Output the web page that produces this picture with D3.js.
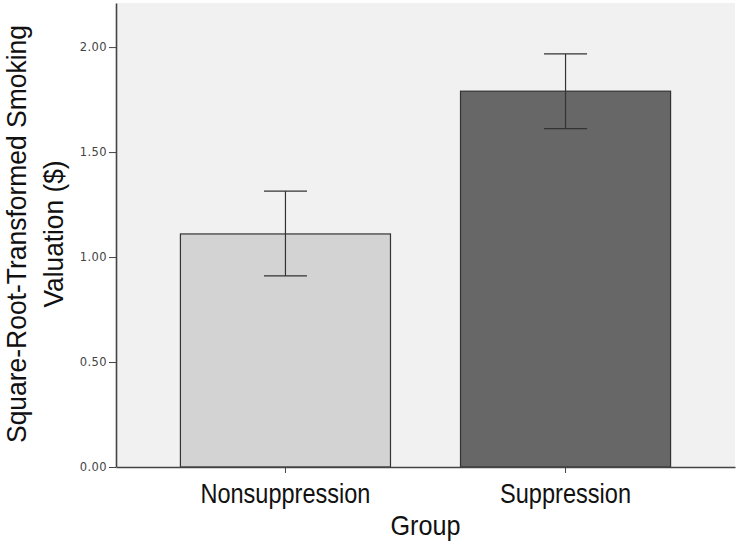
<!DOCTYPE html>
<html><head><meta charset="utf-8">
<script src="https://cdn.jsdelivr.net/npm/d3@7"></script>
<style>body{margin:0;background:#fff}svg{display:block}</style>
</head><body>
<svg id="c" width="750" height="546"></svg>
<script>
const categories = ["Nonsuppression", "Suppression"];
const means = [1.11, 1.79];
const errLow = [0.91, 1.612];
const errHigh = [1.314, 1.968];
const barColors = ["#d3d3d3", "#676767"];
const yTicks = [0, 0.5, 1.0, 1.5, 2.0];

const svg = d3.select("#c");
const L = 116, R = 735, T = 3, B = 467;
const FONT = "'Liberation Sans Narrow', 'Arial Narrow', 'Liberation Sans', sans-serif";
const x = d3.scaleBand().domain(categories).range([L, R]).paddingInner(0.25).paddingOuter(0.23);
const y = d3.scaleLinear().domain([0, 2.21]).range([B, T]);

svg.append("rect").attr("x", L).attr("y", T).attr("width", R - L).attr("height", B - T).attr("fill", "#f1f1f1");

svg.selectAll("rect.bar").data(categories).enter().append("rect")
  .attr("class", "bar")
  .attr("x", d => x(d)).attr("width", x.bandwidth())
  .attr("y", (d, i) => y(means[i])).attr("height", (d, i) => y(0) - y(means[i]))
  .attr("fill", (d, i) => barColors[i]).attr("stroke", "#333").attr("stroke-width", 1.2);

const cap = 43;
categories.forEach((c, i) => {
  const cx = x(c) + x.bandwidth() / 2;
  const g = svg.append("g").attr("stroke", "#333").attr("stroke-width", 1.2);
  g.append("line").attr("x1", cx).attr("x2", cx).attr("y1", y(errLow[i])).attr("y2", y(errHigh[i]));
  g.append("line").attr("x1", cx - cap / 2).attr("x2", cx + cap / 2).attr("y1", y(errLow[i])).attr("y2", y(errLow[i]));
  g.append("line").attr("x1", cx - cap / 2).attr("x2", cx + cap / 2).attr("y1", y(errHigh[i])).attr("y2", y(errHigh[i]));
});

const yAx = svg.append("g").attr("transform", `translate(${L},0)`)
  .call(d3.axisLeft(y).tickValues(yTicks).tickFormat(d3.format(".2f")).tickSize(7).tickSizeOuter(0));
yAx.select(".domain").attr("stroke", "#444").attr("stroke-width", 1.6);
yAx.selectAll(".tick line").attr("stroke", "#444");
yAx.selectAll(".tick text").attr("font-family", "DejaVu Sans").attr("font-size", 11.5)
  .attr("letter-spacing", 0.4).attr("fill", "#444").attr("x", -9);

const xAx = svg.append("g").attr("transform", `translate(0,${B})`)
  .call(d3.axisBottom(x).tickSize(6).tickSizeOuter(0));
xAx.select(".domain").attr("stroke", "#444").attr("stroke-width", 1.6);
xAx.selectAll(".tick line").attr("stroke", "#444");
const catWidths = {"Nonsuppression": 170, "Suppression": 131};
xAx.selectAll(".tick text").attr("font-family", FONT)
  .attr("font-size", 28).attr("fill", "#111").attr("y", 16)
  .attr("textLength", d => catWidths[d]).attr("lengthAdjust", "spacingAndGlyphs");

svg.append("text").attr("x", (L + R) / 2).attr("y", 535).attr("text-anchor", "middle")
  .attr("font-family", FONT).attr("font-size", 28).attr("fill", "#111")
  .attr("textLength", 70).attr("lengthAdjust", "spacingAndGlyphs")
  .text("Group");

const yt = svg.append("text").attr("transform", "translate(0,234) rotate(-90)").attr("text-anchor", "middle")
  .attr("font-family", FONT).attr("font-size", 28).attr("fill", "#111");
yt.append("tspan").attr("x", 0).attr("y", 26).attr("textLength", 418).attr("lengthAdjust", "spacingAndGlyphs")
  .text("Square-Root-Transformed Smoking");
yt.append("tspan").attr("x", 0).attr("y", 63).attr("textLength", 147).attr("lengthAdjust", "spacingAndGlyphs")
  .text("Valuation ($)");
</script>
</body></html>
